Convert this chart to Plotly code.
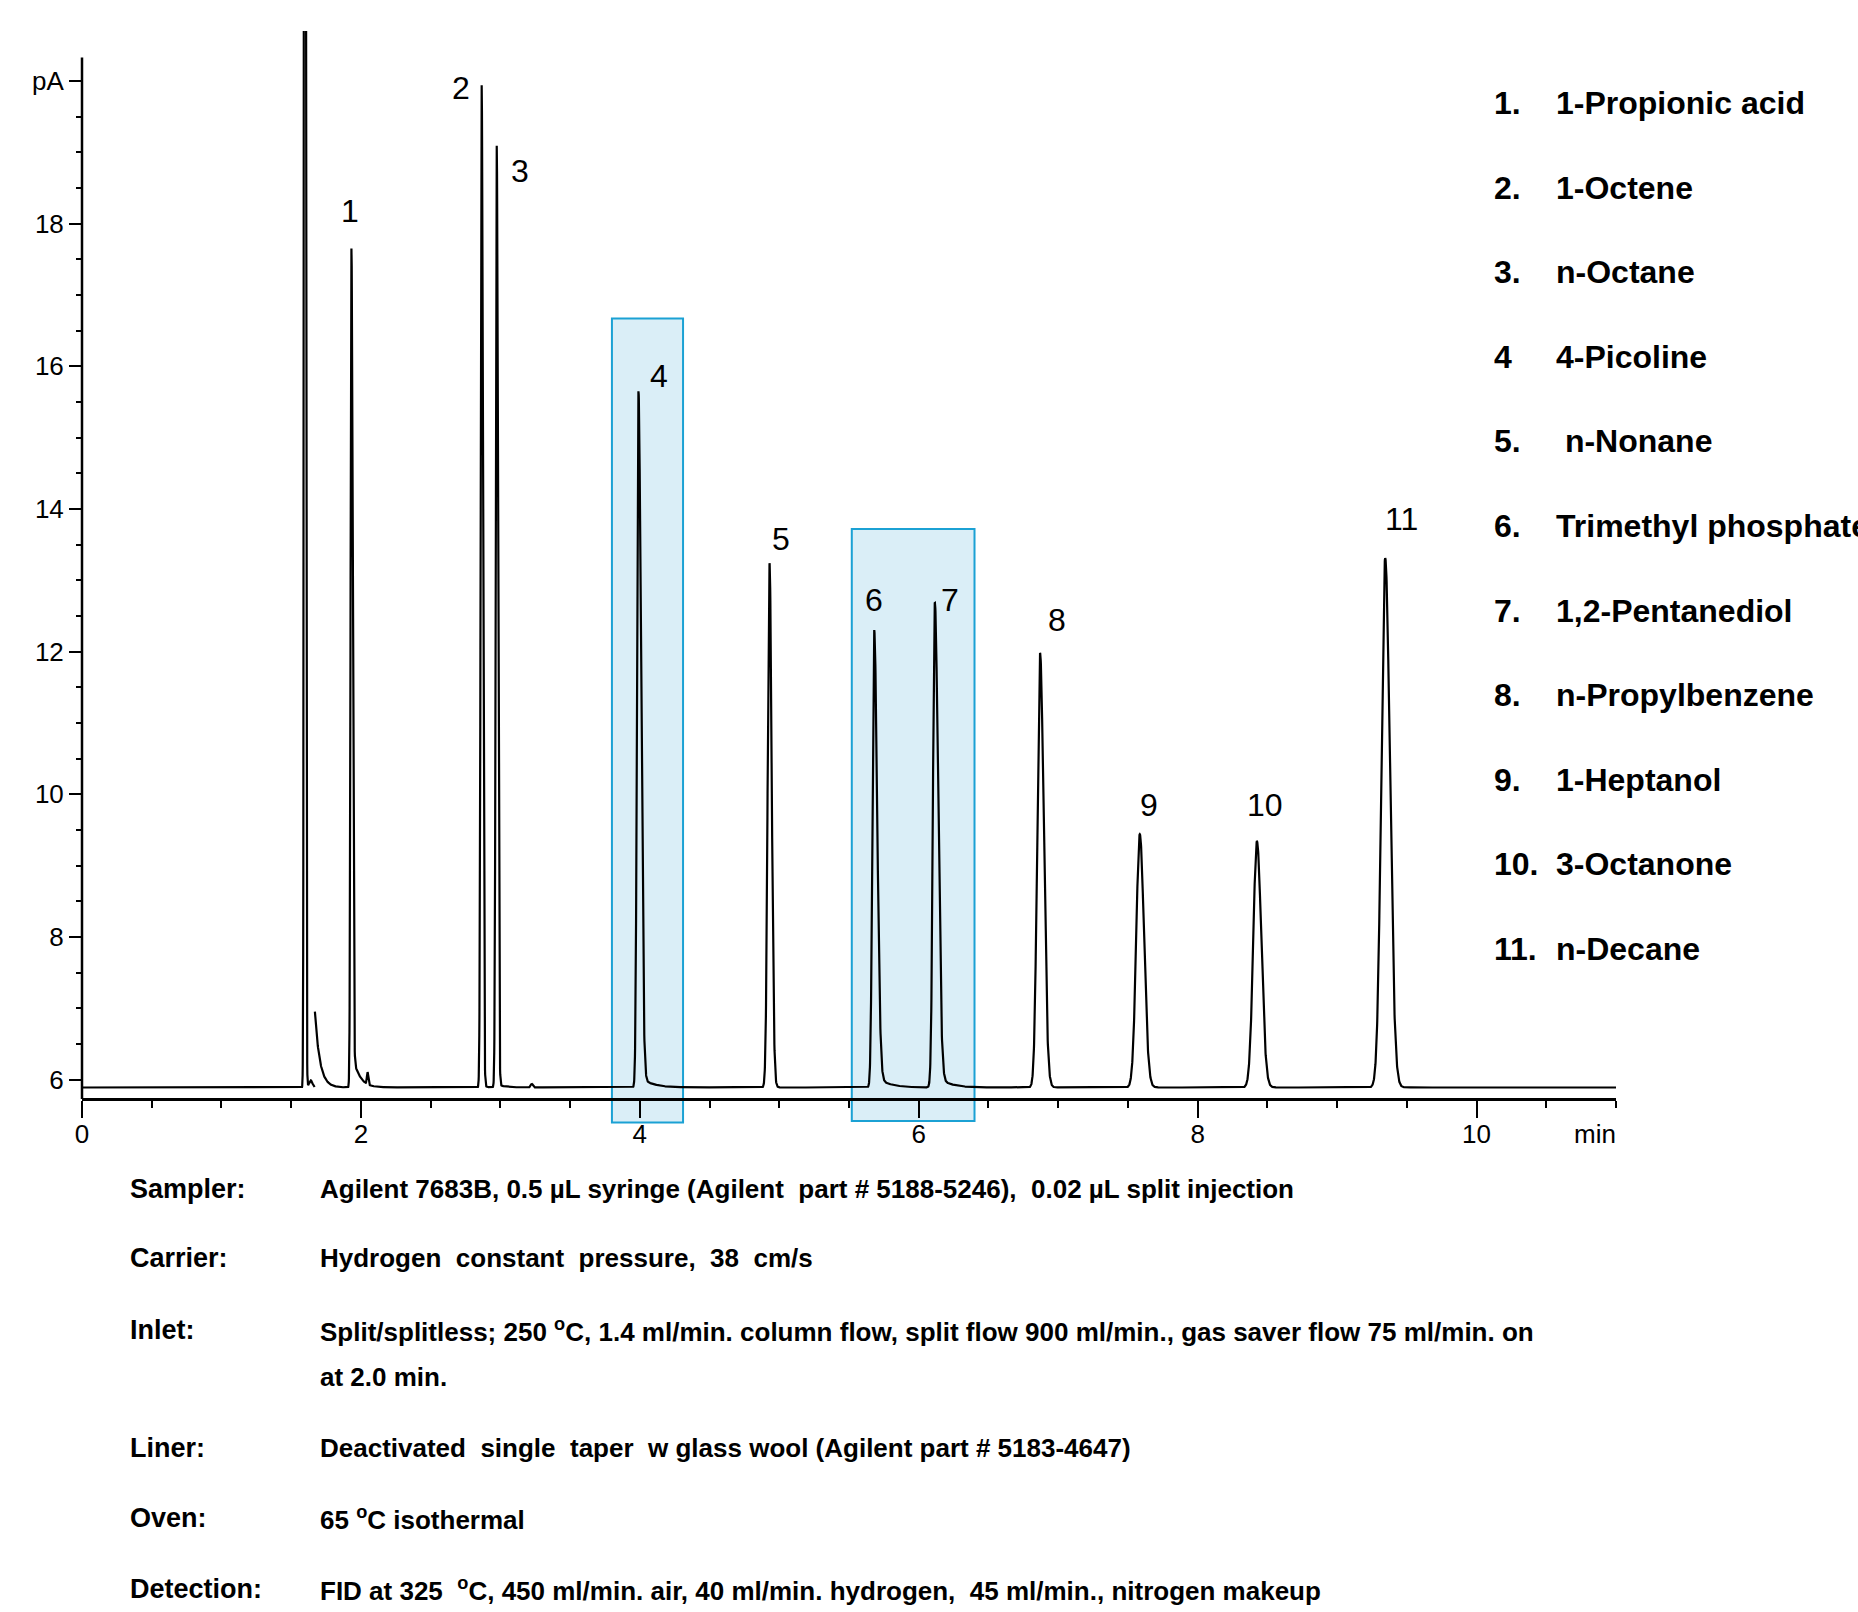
import numpy as np
import plotly.graph_objects as go

# ---------------- data ----------------
peak_labels = ["1", "2", "3", "4", "5", "6", "7", "8", "9", "10", "11"]
peak_rt_min = [1.932, 2.866, 2.974, 3.99, 4.93, 5.68, 6.115, 6.87, 7.585, 8.425, 9.345]
peak_apex_pA = [17.65, 19.94, 19.09, 15.65, 13.24, 12.30, 12.68, 11.98, 9.44, 9.34, 13.31]
peak_sigma_min = [0.006, 0.007, 0.007, 0.010, 0.013, 0.012, 0.013, 0.020, 0.025, 0.026, 0.028]
peak_right_ratio = [1.4, 1.2, 1.2, 1.8, 1.2, 1.8, 1.8, 1.3, 1.2, 1.2, 1.2]
peak_tail_pA = [0.60, 0.03, 0.05, 0.18, 0.03, 0.20, 0.20, 0.03, 0.03, 0.02, 0.02]
peak_tail_tau_min = [0.045, 0.03, 0.05, 0.08, 0.03, 0.08, 0.08, 0.04, 0.04, 0.04, 0.04]

baseline_pA = 5.89

# unlabelled features
solvent_rt_min = 1.599
solvent_apex_pA = 60.0          # off scale
solvent_sigma_min = 0.005
upset_start_min = 1.670
upset_level_pA = 6.95
upset_tau_min = 0.035
minor_rt_min = [1.64, 2.048, 3.225]
minor_height_pA = [0.10, 0.17, 0.05]
minor_sigma_min = [0.012, 0.005, 0.008]

# label offsets (position relative to apex): style, not data
label_dx = [-0.007, -0.151, 0.166, 0.15, 0.085, 0.0, 0.11, 0.12, 0.065, 0.055, 0.115]
label_dy = [0.53, -0.04, -0.35, 0.22, 0.34, 0.42, 0.04, 0.47, 0.41, 0.51, 0.55]

compound_numbers = ["1.", "2.", "3.", "4", "5.", "6.", "7.", "8.", "9.", "10.", "11."]
compound_names = ["1-Propionic acid", "1-Octene", "n-Octane", "4-Picoline", " n-Nonane",
                  "Trimethyl phosphate", "1,2-Pentanediol", "n-Propylbenzene",
                  "1-Heptanol", "3-Octanone", "n-Decane"]

highlight_start_min = [3.80, 5.52]
highlight_end_min = [4.31, 6.40]
highlight_top_pA = [16.67, 13.72]
highlight_bottom_pA = [5.40, 5.42]

condition_labels = ["Sampler:", "Carrier:", "Inlet:", "", "Liner:", "Oven:", "Detection:"]
condition_values = [
    "Agilent 7683B, 0.5 µL syringe (Agilent  part # 5188-5246),  0.02 µL split injection",
    "Hydrogen  constant  pressure,  38  cm/s",
    "Split/splitless; 250 <sup>o</sup>C, 1.4 ml/min. column flow, split flow 900 ml/min., gas saver flow 75 ml/min. on",
    "at 2.0 min.",
    "Deactivated  single  taper  w glass wool (Agilent part # 5183-4647)",
    "65 <sup>o</sup>C isothermal",
    "FID at 325  <sup>o</sup>C, 450 ml/min. air, 40 ml/min. hydrogen,  45 ml/min., nitrogen makeup",
]

x_tick_vals = [0, 2, 4, 6, 8, 10]
y_tick_vals = [6, 8, 10, 12, 14, 16, 18, 20]
y_tick_text = ["6", "8", "10", "12", "14", "16", "18", "pA"]

# ---------------- build the trace ----------------
t = np.round(np.arange(0.0, 11.0005, 0.001), 4)
sig = np.full_like(t, baseline_pA)

def asym_peak(tt, rt, h, s, r):
    d = tt - rt
    w = np.where(d < 0, s, s * r)
    return h * np.exp(-0.5 * (d / w) ** 2)

for rt, ap, s, r, ta, tau in zip(peak_rt_min, peak_apex_pA, peak_sigma_min,
                                 peak_right_ratio, peak_tail_pA, peak_tail_tau_min):
    sig += asym_peak(t, rt, ap - baseline_pA, s, r)
    d = np.clip(t - rt, 0, None)
    sig += np.where(t > rt, ta * np.exp(-d / tau) * (1 - np.exp(-d / (2 * s))), 0.0)

sig += asym_peak(t, solvent_rt_min, solvent_apex_pA - baseline_pA, solvent_sigma_min, 1.0)
for rt, h, s in zip(minor_rt_min, minor_height_pA, minor_sigma_min):
    sig += asym_peak(t, rt, h, s, 1.0)

du = t - upset_start_min
sig += np.where(du >= 0, (upset_level_pA - baseline_pA) *
                np.exp(-np.clip(du, 0, None) / upset_tau_min), 0.0)
sig = sig.astype(float)
gap_idx = int(np.searchsorted(t, upset_start_min)) - 1
sig[gap_idx] = np.nan

# ---------------- geometry ----------------
W, H = 1858, 1612
ML, MR, MT, MB = 82, 242, 31, 486
PW, PH = W - ML - MR, H - MT - MB
X_RANGE = [0, 11]
Y_RANGE = [5.35, 20.7]
X_AXIS_AT = 5.73
Y_AXIS_TOP = 20.33

def px2paper(px, py):
    return (px - ML) / PW, (H - MB - py) / PH

narrow = "Liberation Sans Narrow, Arial Narrow, Liberation Sans, Arial, sans-serif"
regular = "Liberation Sans, Arial, sans-serif"

fig = go.Figure()
fig.add_trace(go.Scatter(x=t, y=sig, mode="lines", connectgaps=False,
                         line=dict(color="black", width=2.2), hoverinfo="skip",
                         showlegend=False))

shapes = []
for x0, x1, y0, y1 in zip(highlight_start_min, highlight_end_min,
                          highlight_bottom_pA, highlight_top_pA):
    shapes.append(dict(type="rect", xref="x", yref="y", x0=x0, x1=x1, y0=y0, y1=y1,
                       fillcolor="#DAEEF7", line=dict(color="#1BA1D4", width=2),
                       layer="below"))
# y-axis line (stops at the x-axis line, like the reference)
shapes.append(dict(type="line", xref="paper", yref="y", x0=0, x1=0,
                   y0=X_AXIS_AT, y1=Y_AXIS_TOP, line=dict(color="black", width=2.5)))

annotations = []
for lab, rt, ap, dx, dy in zip(peak_labels, peak_rt_min, peak_apex_pA, label_dx, label_dy):
    annotations.append(dict(x=rt + dx, y=ap + dy, xref="x", yref="y", text=lab,
                            showarrow=False, xanchor="center", yanchor="middle",
                            font=dict(family=regular, size=32, color="black")))

# axis unit "min"
mx, my = px2paper(1618, 1134)
annotations.append(dict(x=mx, y=my, xref="paper", yref="paper", text="min",
                        showarrow=False, xanchor="right", yanchor="middle",
                        font=dict(family=narrow, size=26, color="black")))

# compound list
for i, (num, name) in enumerate(zip(compound_numbers, compound_names)):
    ycen = 103 + 84.6 * i
    nx, ny = px2paper(1492, ycen)
    annotations.append(dict(x=nx, y=ny, xref="paper", yref="paper", text="<b>%s</b>" % num,
                            showarrow=False, xanchor="left", yanchor="middle",
                            font=dict(family=narrow, size=32, color="black")))
    cx, cy = px2paper(1554, ycen)
    annotations.append(dict(x=cx, y=cy, xref="paper", yref="paper", text="<b>%s</b>" % name,
                            showarrow=False, xanchor="left", yanchor="middle",
                            font=dict(family=narrow, size=32, color="black")))

# conditions block
row_y = [1189, 1258, 1330, 1377, 1448, 1518, 1589]
for lab, val, ry in zip(condition_labels, condition_values, row_y):
    if lab:
        lx, ly = px2paper(128, ry)
        annotations.append(dict(x=lx, y=ly, xref="paper", yref="paper", text="<b>%s</b>" % lab,
                                showarrow=False, xanchor="left", yanchor="middle",
                                font=dict(family=narrow, size=27, color="black")))
    vx, vy = px2paper(318, ry)
    annotations.append(dict(x=vx, y=vy, xref="paper", yref="paper", text="<b>%s</b>" % val,
                            showarrow=False, xanchor="left", yanchor="middle",
                            font=dict(family=narrow, size=26, color="black")))

minor_x = [v / 2 for v in range(1, 23) if v % 4 != 0]
minor_y = [6 + v / 2 for v in range(1, 29) if v % 4 != 0]

fig.update_layout(
    width=W, height=H,
    margin=dict(l=ML, r=MR, t=MT, b=MB, pad=0),
    paper_bgcolor="white", plot_bgcolor="white",
    showlegend=False,
    shapes=shapes, annotations=annotations,
    xaxis=dict(range=X_RANGE, anchor="free",
               position=(X_AXIS_AT - Y_RANGE[0]) / (Y_RANGE[1] - Y_RANGE[0]),
               showgrid=False, zeroline=False, showline=True,
               linecolor="black", linewidth=2.5,
               tickmode="array", tickvals=x_tick_vals,
               ticks="outside", ticklen=17, tickwidth=2, tickcolor="black",
               ticklabelstandoff=-6,
               tickfont=dict(family=narrow, size=26, color="black"),
               minor=dict(tickmode="array", tickvals=minor_x, ticks="outside",
                          ticklen=7, tickwidth=2, tickcolor="black", showgrid=False)),
    yaxis=dict(range=Y_RANGE, showgrid=False, zeroline=False, showline=False,
               tickmode="array", tickvals=y_tick_vals, ticktext=y_tick_text,
               ticks="outside", ticklen=12, tickwidth=2, tickcolor="black",
               tickfont=dict(family=narrow, size=26, color="black"),
               minor=dict(tickmode="array", tickvals=minor_y, ticks="outside",
                          ticklen=5, tickwidth=2, tickcolor="black", showgrid=False)),
)

fig.write_html("out.html")
